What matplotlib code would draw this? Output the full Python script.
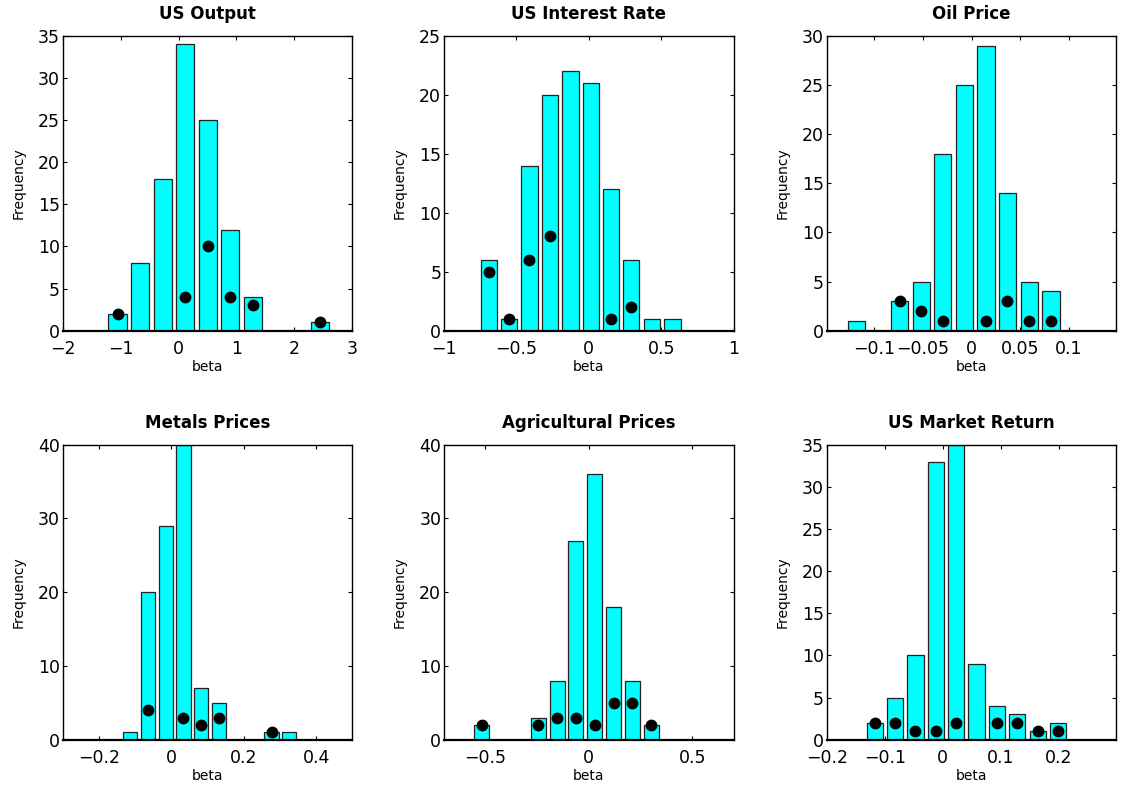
import numpy as np
import matplotlib.pyplot as plt

plt.rcParams['font.family'] = ['DejaVu Sans']

titles = ['US Output', 'US Interest Rate', 'Oil Price',
          'Metals Prices', 'Agricultural Prices', 'US Market Return']

# bin centres
centers = [
    [-1.053, -0.664, -0.276, 0.113, 0.502, 0.890, 1.279, 1.667, 2.056, 2.444],
    [-0.692, -0.552, -0.410, -0.270, -0.127, 0.015, 0.154, 0.293, 0.435, 0.577],
    [-0.1186, -0.0963, -0.0741, -0.0517, -0.0297, -0.0074, 0.0148, 0.0369, 0.0593, 0.0817],
    [-0.1134, -0.0645, -0.0152, 0.0336, 0.0825, 0.1313, 0.180, 0.229, 0.277, 0.326],
    [-0.5176, -0.4266, -0.3355, -0.2444, -0.1534, -0.0623, 0.0288, 0.1198, 0.2109, 0.302],
    [-0.117, -0.0822, -0.0471, -0.0118, 0.023, 0.058, 0.093, 0.128, 0.1635, 0.1986],
]

counts = [
    [2, 8, 18, 34, 25, 12, 4, 0, 0, 1],
    [6, 1, 14, 20, 22, 21, 12, 6, 1, 1],
    [1, 0, 3, 5, 18, 25, 29, 14, 5, 4],
    [1, 20, 29, 40, 7, 5, 0, 0, 1, 1],
    [2, 0, 0, 3, 8, 27, 36, 18, 8, 2],
    [2, 5, 10, 33, 35, 9, 4, 3, 1, 2],
]

n = np.nan
dots = [
    [2, n, n, 4, 10, 4, 3, n, n, 1],
    [5, 1, 6, 8, n, n, 1, 2, n, n],
    [n, n, 3, 2, 1, n, 1, 3, 1, 1],
    [n, 4, n, 3, 2, 3, n, n, 1, n],
    [2, n, n, 2, 3, 3, 2, 5, 5, 2],
    [2, 2, 1, 1, 2, n, 2, 2, 1, 1],
]

xlims = [(-2, 3), (-1, 1), (-0.149, 0.149), (-0.3, 0.5), (-0.7, 0.7), (-0.2, 0.299)]
xticks = [
    [-2, -1, 0, 1, 2, 3],
    [-1, -0.5, 0, 0.5, 1],
    [-0.1, -0.05, 0, 0.05, 0.1],
    [-0.2, 0, 0.2, 0.4],
    [-0.5, 0, 0.5],
    [-0.2, -0.1, 0, 0.1, 0.2],
]
xticklabels = [
    ['\u22122', '\u22121', '0', '1', '2', '3'],
    ['\u22121', '\u22120.5', '0', '0.5', '1'],
    ['\u22120.1', '\u22120.05', '0', '0.05', '0.1'],
    ['\u22120.2', '0', '0.2', '0.4'],
    ['\u22120.5', '0', '0.5'],
    ['\u22120.2', '\u22120.1', '0', '0.1', '0.2'],
]
ylims = [35, 25, 30, 40, 40, 35]
ysteps = [5, 5, 5, 10, 10, 5]

fig = plt.figure(figsize=(11.35, 7.91), dpi=100)

lefts = [0.0552, 0.3912, 0.7284]
bottoms = [0.5819, 0.0649]
w, h = 0.2552, 0.3729

for i in range(6):
    ax = fig.add_axes([lefts[i % 3], bottoms[i // 3], w, h])
    c = np.array(centers[i])
    width = (c[1] - c[0]) * 0.8
    ax.bar(c, counts[i], width=width, color='#00ffff', edgecolor='#222222',
           linewidth=0.9, zorder=2)
    ax.plot(c, dots[i], 'o', color='black', markersize=7.5, zorder=3)
    ax.set_xlim(*xlims[i])
    ax.set_ylim(0, ylims[i])
    ax.set_xticks(xticks[i])
    ax.set_xticklabels(xticklabels[i])
    ax.set_yticks(np.arange(0, ylims[i] + 1, ysteps[i]))
    ax.tick_params(direction='in', length=3, width=0.8, top=True, right=True,
                   labelsize=12.5)
    ax.tick_params(axis='x', pad=7)
    ax.tick_params(axis='y', pad=2)
    for s in ax.spines.values():
        s.set_linewidth(1.0)
    ax.spines['bottom'].set_linewidth(1.6)
    ax.set_title(titles[i], fontsize=12, fontweight='bold', pad=12)
    ax.set_xlabel('beta', fontsize=10, labelpad=1)
    ax.set_ylabel('Frequency', fontsize=10, labelpad=9)

fig.savefig('out.png', dpi=100)
